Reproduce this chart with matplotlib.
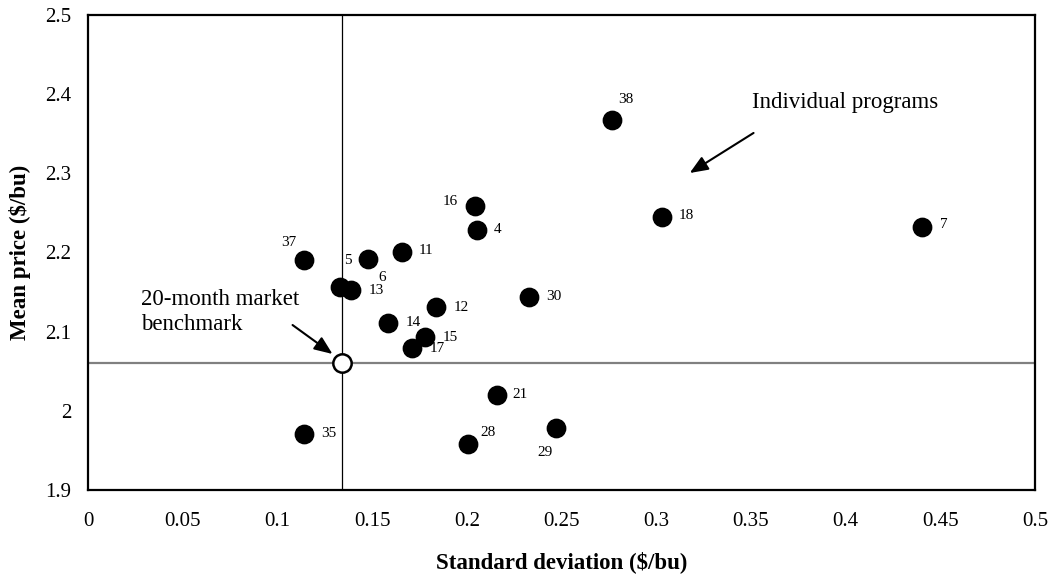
import matplotlib
matplotlib.use("Agg")
import matplotlib.pyplot as plt

# program ids
programs = ['38', '16', '4', '11', '5', '37', '18', '7', '6', '13',
            '12', '14', '15', '17', '30', '21', '35', '28', '29']
std_dev = [0.2766, 0.2044, 0.2055, 0.1660, 0.1480, 0.1138, 0.3030, 0.4405, 0.1391, 0.1333,
           0.1839, 0.1586, 0.1781, 0.1712, 0.2329, 0.2160, 0.1138, 0.2007, 0.2471]
mean_price = [2.367, 2.259, 2.228, 2.201, 2.192, 2.1905, 2.245, 2.232, 2.1526, 2.1564,
              2.131, 2.111, 2.093, 2.079, 2.144, 2.020, 1.971, 1.958, 1.978]

# 20-month market benchmark
bench_sd = 0.1343
bench_price = 2.0605

x_ticks = [0, 0.05, 0.1, 0.15, 0.2, 0.25, 0.3, 0.35, 0.4, 0.45, 0.5]
x_ticklabels = ['0', '0.05', '0.1', '0.15', '0.2', '0.25', '0.3', '0.35', '0.4', '0.45', '0.5']
y_ticks = [1.9, 2.0, 2.1, 2.2, 2.3, 2.4, 2.5]
y_ticklabels = ['1.9', '2', '2.1', '2.2', '2.3', '2.4', '2.5']

# label offsets in pixels (dx, dy up) - labels were hand placed in the original
label_offsets = {'38': (14, 21), '16': (-25, 4), '4': (20, 1), '11': (24, 1), '5': (-20, -2),
                 '37': (-15, 18), '18': (24, 1), '7': (22, 3), '6': (31, 13), '13': (36, -3),
                 '12': (25, 0), '14': (25, 0), '15': (25, 0), '17': (25, 0), '30': (25, 0),
                 '21': (23, 0), '35': (25, 0), '28': (20, 12), '29': (-11, -24)}

plt.rcParams['font.family'] = ['Liberation Serif', 'DejaVu Serif']

fig = plt.figure(figsize=(10.52, 5.77), dpi=100)
ax = fig.add_axes([88/1052, 1 - 490/577, (1035-88)/1052, (490-15)/577])

# reference lines through the benchmark
ax.axhline(bench_price, color='#808080', linewidth=1.6, zorder=1)
ax.axvline(bench_sd, color='black', linewidth=0.9, zorder=1)

ax.scatter(std_dev, mean_price, s=175, color='black', zorder=3)
ax.scatter([bench_sd], [bench_price], s=175, facecolor='white', edgecolor='black',
           linewidth=1.8, zorder=4)

for name, x, y in zip(programs, std_dev, mean_price):
    dx, dy = label_offsets[name]
    ax.annotate(name, (x, y), xytext=(dx, dy), textcoords='offset pixels',
                ha='center', va='center', fontsize=11)

# callouts
arrow_kw = dict(arrowstyle='-|>,head_length=1.1,head_width=0.45',
                color='black', linewidth=1.5, shrinkA=0, shrinkB=0)
ax.text(0.3504, 2.390, 'Individual programs', fontsize=16.5, ha='left', va='center')
ax.annotate('', xy=(0.3177, 2.3004), xytext=(0.3514, 2.351), arrowprops=arrow_kw)

ax.text(0.0279, 2.1249, '20-month market\nbenchmark', fontsize=16.5,
        ha='left', va='center', linespacing=1.25)
ax.annotate('', xy=(0.1291, 2.0718), xytext=(0.108, 2.1084), arrowprops=arrow_kw)

ax.set_xlim(0, 0.5)
ax.set_ylim(1.9, 2.5)
ax.set_xticks(x_ticks)
ax.set_xticklabels(x_ticklabels)
ax.set_yticks(y_ticks)
ax.set_yticklabels(y_ticklabels)
ax.tick_params(axis='both', length=0, labelsize=15)
ax.tick_params(axis='x', pad=16)
ax.tick_params(axis='y', pad=12)
for sp in ax.spines.values():
    sp.set_linewidth(1.6)

ax.set_xlabel('Standard deviation ($/bu)', fontsize=16.5, fontweight='bold', labelpad=14)
ax.set_ylabel('Mean price ($/bu)', fontsize=16.5, fontweight='bold', labelpad=10)

fig.savefig('out.png', dpi=100)
